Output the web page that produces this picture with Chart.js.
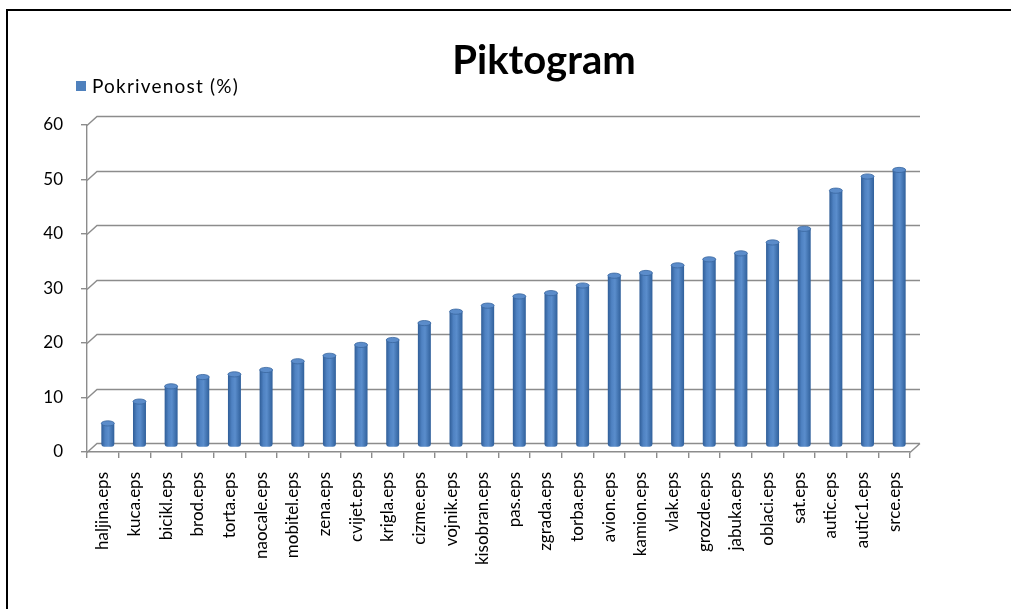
<!DOCTYPE html>
<html>
<head>
<meta charset="utf-8">
<script src="https://cdn.jsdelivr.net/npm/chart.js@4.4.1/dist/chart.umd.min.js"></script>
<style>
  html, body { margin: 0; padding: 0; background: #fff; overflow: hidden; }
  canvas { display: block; }
</style>
</head>
<body>
<canvas id="c" width="1011" height="609"></canvas>
<script>
// Pictogram files and their coverage in percent
const categories = [
  'haljina.eps', 'kuca.eps', 'bicikl.eps', 'brod.eps', 'torta.eps', 'naocale.eps',
  'mobitel.eps', 'zena.eps', 'cvijet.eps', 'krigla.eps', 'cizme.eps', 'vojnik.eps',
  'kisobran.eps', 'pas.eps', 'zgrada.eps', 'torba.eps', 'avion.eps', 'kamion.eps',
  'vlak.eps', 'grozde.eps', 'jabuka.eps', 'oblaci.eps', 'sat.eps', 'autic.eps',
  'autic1.eps', 'srce.eps'
];
const coverage = [
  4.7, 8.7, 11.5, 13.2, 13.7, 14.5,
  16.1, 17.1, 19.1, 20.0, 23.1, 25.2,
  26.3, 28.0, 28.6, 30.0, 31.8, 32.3,
  33.7, 34.8, 35.9, 37.9, 40.4, 47.4,
  50.0, 51.2
];
const seriesName = 'Pokrivenost (%)';
const chartTitle = 'Piktogram';
const yTickLabels = ['0', '10', '20', '30', '40', '50', '60'];

const FONT = 'Lato, "Noto Sans", sans-serif';
const BAR_BLUE = '#4F81BD';
const GRID = '#8c8c8c';
const DEPTH_X = 10, DEPTH_Y = 9;   // offset of the back wall

// Back wall gridlines, floor and the half-depth shift of the columns
const depthFrame = {
  id: 'depthFrame',
  beforeDraw(chart) {
    const { ctx } = chart;
    ctx.save();
    ctx.fillStyle = '#fff';
    ctx.fillRect(0, 0, chart.width, chart.height);
    ctx.fillStyle = '#000';
    ctx.fillRect(6, 9, chart.width, 2);    // outer frame: top edge
    ctx.fillRect(6, 9, 2, chart.height);   // outer frame: left edge
    ctx.restore();
  },
  beforeDatasetsDraw(chart) {
    const { ctx, chartArea: a, scales: { y } } = chart;
    ctx.save();
    ctx.strokeStyle = GRID;
    ctx.lineWidth = 1.4;
    ctx.beginPath();
    y.ticks.forEach(t => {
      const py = Math.round(y.getPixelForValue(t.value)) + 0.5;
      ctx.moveTo(a.left, py);
      ctx.lineTo(a.left + DEPTH_X, py - DEPTH_Y);
      ctx.lineTo(a.right + DEPTH_X, py - DEPTH_Y);
    });
    const p0 = Math.round(y.getPixelForValue(0)) + 0.5;
    ctx.moveTo(a.right, p0);
    ctx.lineTo(a.right + DEPTH_X, p0 - DEPTH_Y);
    ctx.stroke();
    ctx.restore();

    ctx.save();
    ctx.translate(DEPTH_X / 2, -DEPTH_Y / 2);
  },
  afterDatasetsDraw(chart) {
    const { ctx } = chart;
    const meta = chart.getDatasetMeta(0);
    meta.data.forEach(bar => {
      const { x, y, width } = bar.getProps(['x', 'y', 'width'], true);
      ctx.beginPath();
      ctx.ellipse(x, y + 1.5, width / 2, 2.6, 0, 0, Math.PI * 2);
      ctx.fillStyle = '#5b8cca';
      ctx.fill();
      ctx.strokeStyle = '#3a679f';
      ctx.lineWidth = 0.8;
      ctx.stroke();
    });
    ctx.restore();
  },
  afterDraw(chart) {
    const { ctx } = chart;
    ctx.save();
    ctx.fillStyle = '#000';
    ctx.font = 'bold 40px ' + FONT;
    ctx.textAlign = 'center';
    ctx.textBaseline = 'alphabetic';
    ctx.fillText(chartTitle, 544, 74);

    const ds = chart.data.datasets[0];
    ctx.fillStyle = BAR_BLUE;
    ctx.fillRect(76, 81, 10, 10);
    ctx.fillStyle = '#000';
    ctx.font = '19px ' + FONT;
    ctx.letterSpacing = '1.2px';
    ctx.textAlign = 'left';
    ctx.textBaseline = 'middle';
    ctx.fillText(ds.label, 92, 87);
    ctx.restore();
  }
};

function columnFill(c) {
  const chart = c.chart;
  if (!chart.chartArea || c.dataIndex === undefined) return BAR_BLUE;
  const x = chart.scales.x.getPixelForValue(c.dataIndex);
  const g = chart.ctx.createLinearGradient(x - 6.5, 0, x + 6.5, 0);
  g.addColorStop(0, '#2f5d97');
  g.addColorStop(0.3, '#4f82c2');
  g.addColorStop(0.55, '#5a8dcc');
  g.addColorStop(1, '#30609b');
  return g;
}

new Chart(document.getElementById('c'), {
  type: 'bar',
  data: {
    labels: categories,
    datasets: [{
      label: seriesName,
      data: coverage,
      backgroundColor: columnFill,
      borderWidth: 0,
      borderRadius: 3,
      borderSkipped: false,
      barPercentage: 0.41,
      categoryPercentage: 1
    }]
  },
  options: {
    responsive: false,
    animation: false,
    devicePixelRatio: 1,
    layout: { padding: { top: 125, left: 0, right: 101, bottom: 0 } },
    plugins: {
      legend: { display: false },
      title: { display: false },
      tooltip: { enabled: false }
    },
    scales: {
      x: {
        afterFit(s) { s.height = 157; },
        border: { display: true, color: GRID, width: 1.4 },
        grid: { drawOnChartArea: false, drawTicks: true, tickLength: 6, color: GRID, lineWidth: 1.4, offset: true },
        ticks: {
          autoSkip: false, minRotation: 90, maxRotation: 90, padding: 14,
          color: '#000', font: { family: FONT, size: 17 }
        }
      },
      y: {
        min: Number(yTickLabels[0]),
        max: Number(yTickLabels[yTickLabels.length - 1]),
        afterFit(s) { s.width = 87; },
        border: { display: true, color: GRID, width: 1.4 },
        grid: { drawOnChartArea: false, drawTicks: true, tickLength: 6, color: GRID, lineWidth: 1.4 },
        ticks: {
          stepSize: Number(yTickLabels[1]) - Number(yTickLabels[0]),
          padding: 18,
          color: '#000',
          font: { family: FONT, size: 17 },
          callback: (v, i) => yTickLabels[i]
        }
      }
    }
  },
  plugins: [depthFrame]
});
</script>
</body>
</html>
